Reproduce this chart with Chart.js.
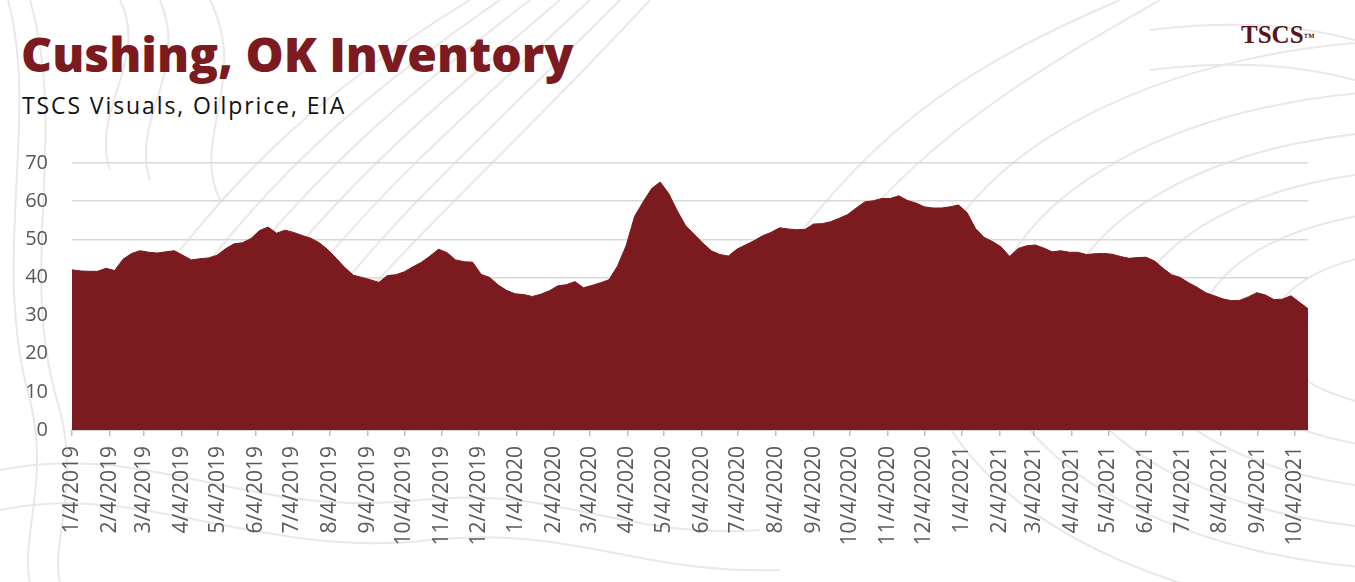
<!DOCTYPE html>
<html>
<head>
<meta charset="utf-8">
<script src="https://cdn.jsdelivr.net/npm/chart.js@4"></script>
<style>
html,body{margin:0;padding:0;background:#ffffff;}
body{width:1355px;height:582px;position:relative;overflow:hidden;}
#bg{position:absolute;left:0;top:0;width:1355px;height:582px;}
#title{position:absolute;left:21px;top:30px;font-family:"Open Sans",sans-serif;font-weight:800;font-size:48px;line-height:48px;color:#7b1a1f;white-space:nowrap;}
#subtitle{position:absolute;left:22px;top:93px;font-family:"Open Sans",sans-serif;font-weight:400;font-size:23px;line-height:24px;letter-spacing:1.9px;color:#111111;white-space:nowrap;}
#logo{position:absolute;left:1241px;top:22px;font-family:"Liberation Serif",serif;font-weight:700;font-size:25px;line-height:26px;color:#5a1418;white-space:nowrap;}
#logo span{font-size:11px;vertical-align:top;position:relative;top:2px;}
#wrap{position:absolute;left:0;top:127px;width:1355px;height:455px;}
</style>
</head>
<body>
<svg id="bg" viewBox="0 0 1355 582" fill="none" stroke="#ebe7e9" stroke-width="2">
  <path d="M8 0 C40 120 -10 260 30 400 C50 480 20 540 30 582"/>
  <path d="M30 0 C70 140 15 270 60 410 C80 490 50 545 60 582"/>
  <path d="M120 0 C150 60 90 110 110 170"/>
  <path d="M160 0 C190 70 130 120 150 180"/>
  <path d="M210 0 C250 80 190 140 220 200"/>
  <path d="M180 250 C260 150 340 80 470 0"/>
  <path d="M210 260 C290 160 370 90 500 0"/>
  <path d="M240 270 C320 170 400 100 530 0"/>
  <path d="M270 280 C350 180 430 110 560 0"/>
  <path d="M300 290 C380 190 460 120 590 0"/>
  <path d="M330 300 C410 200 490 130 620 0"/>
  <path d="M360 300 C440 210 520 140 650 0"/>
  <path d="M780 260 C880 120 980 60 1120 0"/>
  <path d="M820 270 C920 140 1020 80 1160 0"/>
  <ellipse cx="1430" cy="330" rx="160" ry="80"/>
  <ellipse cx="1430" cy="330" rx="230" ry="120"/>
  <ellipse cx="1430" cy="330" rx="300" ry="160"/>
  <ellipse cx="1430" cy="330" rx="370" ry="200"/>
  <ellipse cx="1430" cy="330" rx="440" ry="240"/>
  <ellipse cx="1430" cy="330" rx="510" ry="290"/>
  <path d="M0 470 C150 440 250 520 420 500 C560 485 620 540 760 530"/>
  <path d="M0 510 C140 480 260 560 430 540 C570 525 640 575 780 570"/>
  <path d="M1150 30 C1230 20 1300 25 1355 40"/>
  <path d="M1150 70 C1230 60 1300 65 1355 80"/>
</svg>
<div id="title">Cushing, OK Inventory</div>
<div id="subtitle">TSCS Visuals, Oilprice, EIA</div>
<div id="logo">TSCS<span>™</span></div>
<div id="wrap"><canvas id="c"></canvas></div>
<script>
// Weekly data (million barrels), first week ending 1/4/2019
const startDate = '2019-01-04';
const inventory = [
  42.0, 41.7, 41.6, 41.6, 42.4, 41.8, 44.8, 46.3, 47.0, 46.6, 46.4, 46.7, 47.0, 45.8, 44.6, 44.9, 45.1, 45.8, 47.5, 48.8, 49.1, 50.2, 52.3, 53.2,
  51.6, 52.4, 51.8, 51.0, 50.3, 49.1, 47.3, 45.0, 42.6, 40.6, 40.0, 39.4, 38.7, 40.5, 40.7, 41.5, 42.8, 44.0, 45.6, 47.4, 46.5, 44.6, 44.1, 44.0,
  40.8, 40.0, 38.0, 36.6, 35.7, 35.5, 35.0, 35.6, 36.5, 37.8, 38.1, 38.9, 37.3, 37.9, 38.6, 39.4, 43.0, 48.3, 56.0, 59.8, 63.3, 65.0, 62.0, 57.5,
  53.5, 51.3, 49.0, 47.0, 46.0, 45.6, 47.4, 48.5, 49.6, 50.9, 51.8, 53.0, 52.7, 52.5, 52.6, 54.0, 54.1, 54.6, 55.5, 56.5, 58.2, 59.8, 60.1, 60.7,
  60.7, 61.4, 60.2, 59.5, 58.5, 58.2, 58.2, 58.5, 59.0, 57.0, 52.8, 50.5, 49.4, 48.0, 45.5, 47.6, 48.3, 48.5, 47.7, 46.7, 47.0, 46.6, 46.6, 46.0,
  46.2, 46.3, 46.1, 45.5, 45.0, 45.2, 45.3, 44.3, 42.4, 40.7, 40.0, 38.6, 37.4, 36.0, 35.2, 34.4, 33.9, 34.0, 34.9, 36.0, 35.4, 34.2, 34.3, 35.2, 33.5, 31.8
];
const monthLabels = [
  '1/4/2019','2/4/2019','3/4/2019','4/4/2019','5/4/2019','6/4/2019','7/4/2019','8/4/2019','9/4/2019','10/4/2019','11/4/2019','12/4/2019',
  '1/4/2020','2/4/2020','3/4/2020','4/4/2020','5/4/2020','6/4/2020','7/4/2020','8/4/2020','9/4/2020','10/4/2020','11/4/2020','12/4/2020',
  '1/4/2021','2/4/2021','3/4/2021','4/4/2021','5/4/2021','6/4/2021','7/4/2021','8/4/2021','9/4/2021','10/4/2021'
];
const yTicks = [0, 10, 20, 30, 40, 50, 60, 70];

const DAY = 86400000;
const start = Date.parse(startDate + 'T00:00:00Z');
function dayOf(label) {
  const p = label.split('/').map(Number);
  return Math.round((Date.UTC(p[2], p[0] - 1, p[1]) - start) / DAY);
}
const tickDays = monthLabels.map(dayOf);
const points = inventory.map((v, i) => ({ x: i * 7, y: v }));
const lastDay = (inventory.length - 1) * 7;

const axisGrey = '#595959';
new Chart(document.getElementById('c'), {
  type: 'line',
  data: {
    datasets: [{
      data: points,
      fill: 'origin',
      backgroundColor: '#7b1a1f',
      borderColor: '#7b1a1f',
      borderWidth: 1,
      pointRadius: 0,
      tension: 0
    }]
  },
  options: {
    responsive: true,
    maintainAspectRatio: false,
    animation: false,
    layout: { padding: { top: 12, right: 47, left: 0, bottom: 0 } },
    plugins: { legend: { display: false }, tooltip: { enabled: false } },
    scales: {
      x: {
        type: 'linear',
        min: 0,
        max: lastDay,
        afterBuildTicks: s => { s.ticks = tickDays.map(v => ({ value: v })); },
        afterFit: s => { s.height = 152; },
        ticks: {
          autoSkip: false,
          minRotation: 90,
          maxRotation: 90,
          padding: 10,
          color: axisGrey,
          font: { family: 'Open Sans', size: 21 },
          callback: v => { const k = tickDays.indexOf(v); return k >= 0 ? monthLabels[k] : ''; }
        },
        grid: { drawOnChartArea: false, drawTicks: true, tickLength: 6, color: '#bfbfbf', lineWidth: 1.5 },
        border: { display: true, color: '#bfbfbf', width: 1.5 }
      },
      y: {
        min: 0,
        max: 70,
        afterBuildTicks: s => { s.ticks = yTicks.map(v => ({ value: v })); },
        afterFit: s => { s.width = 72; },
        ticks: {
          padding: 24,
          color: axisGrey,
          font: { family: 'Open Sans', size: 20 }
        },
        grid: { color: '#d9d9d9', lineWidth: 1.5, drawTicks: false },
        border: { display: false }
      }
    }
  }
});
</script>
</body>
</html>
